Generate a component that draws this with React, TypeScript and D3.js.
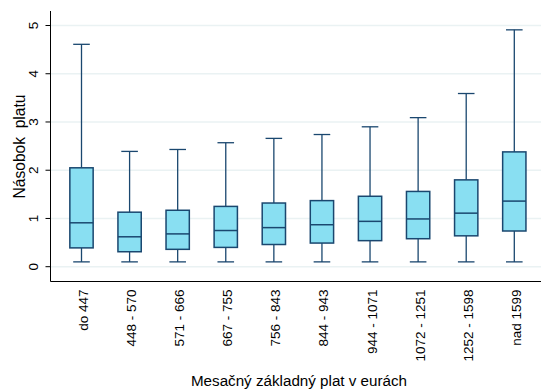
import React from "react";
import * as d3 from "d3";

const categories = [
  "do 447",
  "448 - 570",
  "571 - 666",
  "667 - 755",
  "756 - 843",
  "844 - 943",
  "944 - 1071",
  "1072 - 1251",
  "1252 - 1598",
  "nad 1599",
];
const whiskerLow = [0.1, 0.1, 0.1, 0.1, 0.1, 0.1, 0.1, 0.1, 0.1, 0.1];
const q1 = [0.39, 0.31, 0.36, 0.4, 0.46, 0.49, 0.54, 0.58, 0.64, 0.74];
const median = [0.91, 0.62, 0.68, 0.75, 0.81, 0.87, 0.94, 0.99, 1.11, 1.36];
const q3 = [2.05, 1.13, 1.17, 1.25, 1.32, 1.37, 1.46, 1.56, 1.8, 2.38];
const whiskerHigh = [4.61, 2.39, 2.43, 2.57, 2.66, 2.74, 2.9, 3.09, 3.59, 4.91];
const yTicks = [0, 1, 2, 3, 4, 5];

const W = 541;
const H = 390;
const plotLeft = 50.5;
const plotTop = 11;
const plotBottom = 281.5;
const plotRight = 541;

const FILL = "#89dff2";
const STROKE = "#1a476f";
const GRID = "#eaf2f3";
const FONT = "Arial, 'Liberation Sans', sans-serif";

export default function App() {
  const y = d3.scaleLinear().domain([0, 5]).range([266.7, 25.5]);
  const x = d3.scalePoint<string>().domain(categories).range([81.5, 514.3]);
  const boxW = 23.3;
  const capW = 16.6;

  return (
    <svg
      width={W}
      height={H}
      style={{ position: "absolute", left: 0, top: 0, background: "#fff" }}
      fontFamily={FONT}
    >
      {/* horizontal grid */}
      {yTicks.map((t) => (
        <line
          key={"g" + t}
          x1={plotLeft}
          x2={plotRight}
          y1={y(t)}
          y2={y(t)}
          stroke={GRID}
          strokeWidth={1.5}
        />
      ))}

      {/* boxes */}
      {categories.map((c, i) => {
        const cx = x(c)!;
        return (
          <g key={c}>
            <line x1={cx} x2={cx} y1={y(q3[i])} y2={y(whiskerHigh[i])} stroke={STROKE} strokeWidth={1.3} />
            <line x1={cx} x2={cx} y1={y(q1[i])} y2={y(whiskerLow[i])} stroke={STROKE} strokeWidth={1.3} />
            <line x1={cx - capW / 2} x2={cx + capW / 2} y1={y(whiskerHigh[i])} y2={y(whiskerHigh[i])} stroke={STROKE} strokeWidth={1.3} />
            <line x1={cx - capW / 2} x2={cx + capW / 2} y1={y(whiskerLow[i])} y2={y(whiskerLow[i])} stroke={STROKE} strokeWidth={1.3} />
            <rect
              x={cx - boxW / 2}
              y={y(q3[i])}
              width={boxW}
              height={y(q1[i]) - y(q3[i])}
              fill={FILL}
              stroke={STROKE}
              strokeWidth={1.5}
            />
            <line x1={cx - boxW / 2} x2={cx + boxW / 2} y1={y(median[i])} y2={y(median[i])} stroke={STROKE} strokeWidth={1.5} />
          </g>
        );
      })}

      {/* axes */}
      <line x1={plotLeft} x2={plotLeft} y1={plotTop} y2={plotBottom} stroke="#000" strokeWidth={1} />
      <line x1={plotLeft} x2={plotRight} y1={plotBottom} y2={plotBottom} stroke="#000" strokeWidth={1} />
      {yTicks.map((t) => (
        <g key={"t" + t}>
          <line x1={plotLeft - 5} x2={plotLeft} y1={y(t)} y2={y(t)} stroke="#000" strokeWidth={1} />
          <text
            transform={`translate(${38},${y(t)}) rotate(-90)`}
            textAnchor="middle"
            fontSize={13.5}
            fill="#000"
          >
            {t}
          </text>
        </g>
      ))}
      {categories.map((c) => (
        <text
          key={"x" + c}
          transform={`translate(${x(c)! + 6.5},${289.5}) rotate(-90)`}
          textAnchor="end"
          fontSize={13.5}
          fill="#000"
        >
          {c}
        </text>
      ))}

      {/* axis titles */}
      <text
        transform={`translate(${25},${146.5}) rotate(-90)`}
        textAnchor="middle"
        fontSize={15.6}
        fill="#000"
      >
        {"Násobok\u00a0\u00a0platu"}
      </text>
      <text x={299} y={386} textAnchor="middle" fontSize={15.2} fill="#000">
        Mesačný základný plat v eurách
      </text>
    </svg>
  );
}
